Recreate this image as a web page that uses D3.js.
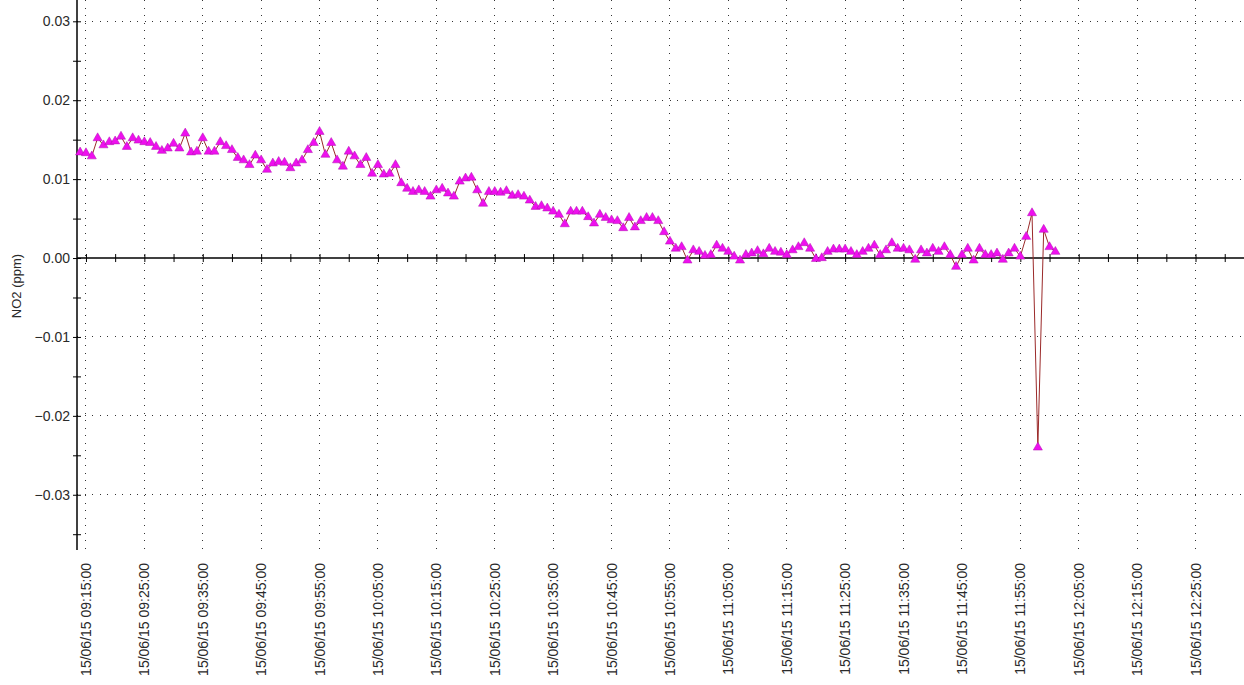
<!DOCTYPE html>
<html><head><meta charset="utf-8">
<script src="https://cdn.jsdelivr.net/npm/d3@7"></script>
<style>
body{margin:0;background:#fff}
svg{display:block}
text{font-family:"Liberation Sans",Arial,sans-serif}
</style>
</head><body>
<svg id="c" width="1244" height="685"></svg>
<script>
// ---- data ----
const startTime = "15/06/15 09:14:00";
const intervalMinutes = 1;
const no2 = [
 0.0134,0.0133,0.0129,0.0152,0.0143,0.0147,0.0148,0.0154,0.0141,0.0152,0.0149,0.0147,0.0146,0.0141,0.0136,0.0139,0.0145,0.0139,0.0158,0.0134,0.0135,0.0152,0.0135,0.0135,0.0147,0.0142,0.0137,0.0127,0.0124,0.0118,0.0130,0.0124,0.0112,
 0.0120,0.0122,0.0121,0.0114,0.0120,0.0124,0.0137,0.0146,0.0160,0.0131,0.0146,0.0124,0.0116,0.0135,0.0129,0.0118,0.0127,0.0107,0.0118,0.0106,0.0107,0.0118,0.0095,0.0088,0.0084,0.0086,0.0084,0.0078,0.0086,0.0088,0.0082,0.0078,0.0097,0.0101,
 0.0102,0.0086,0.0069,0.0084,0.0084,0.0083,0.0085,0.0079,0.0080,0.0078,0.0073,0.0065,0.0066,0.0063,0.0059,0.0055,0.0043,0.0059,0.0059,0.0059,0.0052,0.0044,0.0055,0.0051,0.0048,0.0047,0.0038,0.0051,0.0039,0.0047,0.0051,0.0051,0.0047,
 0.0033,0.0021,0.0012,0.0014,-0.0003,0.0010,0.0008,0.0003,0.0004,0.0016,0.0012,0.0008,0.0002,-0.0003,0.0004,0.0006,0.0009,0.0005,0.0012,0.0008,0.0007,0.0004,0.0010,0.0014,0.0019,0.0012,-0.0001,0.0000,0.0008,0.0011,0.0011,0.0011,
 0.0008,0.0004,0.0008,0.0012,0.0016,0.0004,0.0010,0.0019,0.0012,0.0012,0.0010,-0.0002,0.0010,0.0006,0.0012,0.0008,0.0014,0.0004,-0.0011,0.0004,0.0012,-0.0003,0.0012,0.0004,0.0004,0.0006,-0.0002,0.0006,0.0012,0.0002,0.0027,0.0057,-0.0240,0.0036,0.0014,0.0008
];
const yMajorTicks = [-0.03,-0.02,-0.01,0,0.01,0.02,0.03];
const yMinorTicks = [-0.035,-0.025,-0.015,-0.005,0.005,0.015,0.025];
const xTickLabels = [
 "15/06/15 09:15:00","15/06/15 09:25:00","15/06/15 09:35:00","15/06/15 09:45:00","15/06/15 09:55:00",
 "15/06/15 10:05:00","15/06/15 10:15:00","15/06/15 10:25:00","15/06/15 10:35:00","15/06/15 10:45:00",
 "15/06/15 10:55:00","15/06/15 11:05:00","15/06/15 11:15:00","15/06/15 11:25:00","15/06/15 11:35:00",
 "15/06/15 11:45:00","15/06/15 11:55:00","15/06/15 12:05:00","15/06/15 12:15:00","15/06/15 12:25:00"
];
const yLabel = "NO2 (ppm)";
const xDomain = ["15/06/15 09:13:28","15/06/15 12:33:18"];
const yDomain = [-0.037, 0.0327];

// ---- build ----
const parse = d3.timeParse("%d/%m/%y %H:%M:%S");
const fmt = d3.timeFormat("%d/%m/%y %H:%M:%S");
const t0 = parse(startTime);
const data = no2.map((v,i)=>({t:d3.timeMinute.offset(t0, i*intervalMinutes), v}));
const majorTimes = xTickLabels.map(parse);
const minorTimes = majorTimes.map(d=>d3.timeMinute.offset(d,5));

const L=77, R=1244, T=0, B=550;
const x = d3.scaleTime().domain(xDomain.map(parse)).range([L,R]);
const y = d3.scaleLinear().domain(yDomain).range([B,T]);

const svg = d3.select("#c");
const gridColor = "#333";
const textColor = "#2a2a2a";

// horizontal dotted grid
svg.append("g").selectAll("line").data(yMajorTicks.filter(d=>d!==0)).join("line")
  .attr("x1",L).attr("x2",R).attr("y1",d=>y(d)).attr("y2",d=>y(d))
  .attr("stroke",gridColor).attr("stroke-width",1).attr("stroke-dasharray","1,6.5")
  .attr("shape-rendering","crispEdges");
// vertical dotted grid
svg.append("g").selectAll("line").data(majorTimes).join("line")
  .attr("x1",d=>x(d)).attr("x2",d=>x(d)).attr("y1",T).attr("y2",B)
  .attr("stroke",gridColor).attr("stroke-width",1).attr("stroke-dasharray","1,6.5")
  .attr("shape-rendering","crispEdges");

// y axis
const yAx = svg.append("g").attr("transform",`translate(${L},0)`)
  .call(d3.axisLeft(y).tickValues(yMajorTicks).tickSize(4).tickPadding(3).tickFormat(d3.format(".2f")));
yAx.select(".domain").attr("d",`M0,${T}V${B}`).attr("stroke","#000").attr("stroke-width",1.5);
yAx.selectAll(".tick line").attr("x1",4).attr("x2",-4).attr("stroke","#000");
yAx.selectAll(".tick text").attr("font-size",14).attr("fill",textColor)
  .style("font-family",'"Liberation Sans",Arial,sans-serif');
const yMin = svg.append("g").attr("transform",`translate(${L},0)`)
  .call(d3.axisLeft(y).tickValues(yMinorTicks).tickSize(4).tickFormat(""));
yMin.select(".domain").remove();
yMin.selectAll(".tick line").attr("x1",4).attr("x2",-4).attr("stroke","#000");

// x axis at zero
const xAx = svg.append("g").attr("transform",`translate(0,${y(0)})`)
  .call(d3.axisBottom(x).tickValues(majorTimes.concat(minorTimes)).tickSize(4).tickFormat(""));
xAx.select(".domain").attr("d",`M${L},0H${R}`).attr("stroke","#000").attr("stroke-width",1.5);
xAx.selectAll(".tick line").attr("y1",-4).attr("y2",4).attr("stroke","#000");

// x labels
svg.append("g").selectAll("text").data(majorTimes).join("text")
  .attr("transform",d=>`translate(${x(d)+5},563) rotate(-90)`)
  .attr("text-anchor","end").attr("font-size",14).attr("fill",textColor)
  .text(d=>fmt(d));

// y label
svg.append("text").attr("transform","translate(21,286) rotate(-90)")
  .attr("text-anchor","middle").attr("font-size",13).attr("fill",textColor).text(yLabel);

// line
svg.append("path").datum(data)
  .attr("d",d3.line().x(d=>x(d.t)).y(d=>y(d.v)))
  .attr("fill","none").attr("stroke","#9b2a2a").attr("stroke-width",1);

// markers
svg.append("g").selectAll("path").data(data).join("path")
  .attr("transform",d=>`translate(${x(d.t)},${y(d.v)})`)
  .attr("d",d3.symbol(d3.symbolTriangle,36))
  .attr("fill","#ee10ee").attr("stroke","#b010b0").attr("stroke-width",0.5);
</script>
</body></html>
